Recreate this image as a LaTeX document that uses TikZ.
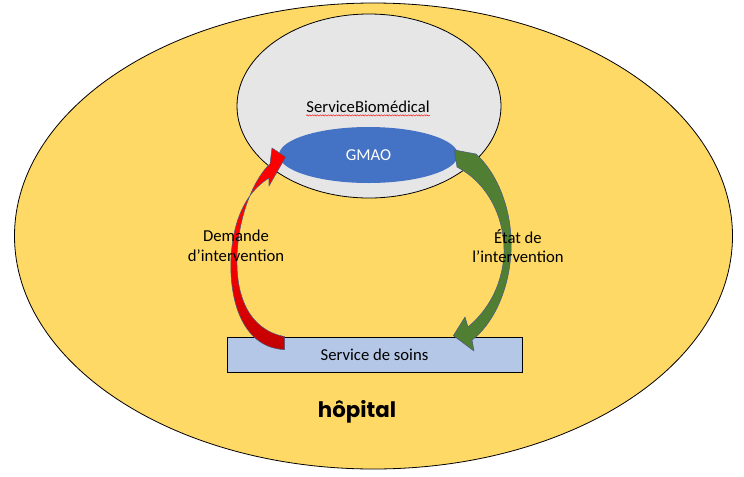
\documentclass[tikz,border=0pt]{standalone}
\usepackage{fontspec}
\setmainfont{Carlito}
\newfontfamily\titlefont{Poppins}
\usepackage{xcolor}
\usetikzlibrary{shapes.geometric,calc,decorations.pathmorphing}
\definecolor{hopyellow}{HTML}{FFD966}
\definecolor{biogrey}{HTML}{E7E6E6}
\definecolor{gmaoblue}{HTML}{4472C4}
\definecolor{soinsblue}{HTML}{B4C7E7}
\definecolor{demred}{HTML}{FF0000}
\definecolor{demdark}{HTML}{C00000}
\definecolor{etatgreen}{HTML}{507E32}
\definecolor{arrowedge}{HTML}{4A5A80}

\begin{document}
\begin{tikzpicture}[
x=0.75pt, y=-0.75pt,
zone/.style={draw, ellipse, line width=0.6pt, inner sep=0pt},
txt/.style={font=\fontsize{12.5}{14.8}\selectfont, align=center, inner sep=0pt},
blockarr/.style={draw=arrowedge, line width=0.4pt, line join=round}
]
\useasboundingbox (0,0) rectangle (744,476);
\node[zone, fill=hopyellow, minimum width=538.5pt, minimum height=349.5pt] (hopital) at (373.5,236) {};
\node[zone, fill=biogrey, minimum width=198pt, minimum height=138pt] (biomed) at (369,106) {};
\node[txt] (biolabel) at (368,107) {ServiceBiomédical};
\draw[red, line width=0.3pt, decorate, decoration={snake, amplitude=0.5pt, segment length=2pt}]
  ([yshift=-2pt]biolabel.base west) -- ([yshift=-2pt]biolabel.base east);
\node[zone, draw=none, fill=gmaoblue, text=white, minimum width=134.25pt, minimum height=42pt, txt] (gmao) at (368.5,155) {GMAO};
\node[draw, line width=0.6pt, fill=soinsblue, minimum width=221.25pt, minimum height=26.25pt, txt] (soins) at (374.5,354.5) {Service de soins};

% demande : soins -> gmao
\path[blockarr, top color=demred, bottom color=demdark, middle color=demred]
  ($(soins.north west)+(58,0)$) -- ++(0,13)
  .. controls (245,348) and (229,305) .. (231,258)
  .. controls (233,220) and (246,192) .. (269,178)
  -- (269,186) -- ($(gmao.west)+(7,2)$) -- (272,148) -- (270,164)
  .. controls (257,175) and (238,212) .. (237,258)
  .. controls (236,298) and (250,330) .. ($(soins.north west)+(58,0)$) -- cycle;
% etat : gmao -> soins
\path[blockarr, fill=etatgreen]
  ($(gmao.east)+(-4,-5)$) -- (476,154)
  .. controls (500,176) and (513,215) .. (511,252)
  .. controls (509,292) and (492,325) .. (472,340)
  -- (474,351) -- ($(soins.north east)+(-69,-1)$) -- (465,317) -- (468,327)
  .. controls (486,312) and (502,288) .. (504,254)
  .. controls (505,215) and (486,182) .. (457,167) -- cycle;

\node[txt] (demande) at (236,246) {Demande\\d’intervention};
\node[txt] (etat) at (518,246) {État de\\l’intervention};
\node[txt, font=\titlefont\bfseries\fontsize{16}{19}\selectfont] (hoplabel) at (357,412) {hôpital};
\end{tikzpicture}
\end{document}
